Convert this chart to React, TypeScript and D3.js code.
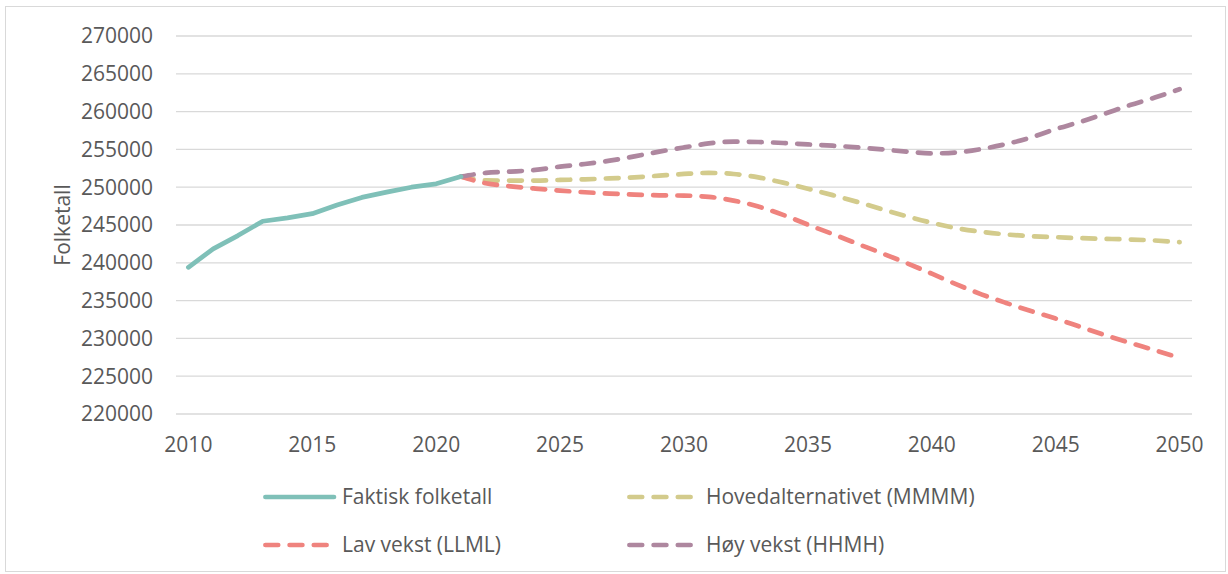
import React from 'react'
import * as d3 from 'd3'

const years = d3.range(2010, 2051)
const tickYears = [2010, 2015, 2020, 2025, 2030, 2035, 2040, 2045, 2050]
const yTicks = [220000, 225000, 230000, 235000, 240000, 245000, 250000, 255000, 260000, 265000, 270000]

// 2010-2021
const actual = [239400, 241850, 243600, 245500, 245950, 246500, 247650, 248650, 249350, 250000, 250450, 251400]

// 2021-2050
const projYears = d3.range(2021, 2051)
const mainAlt = [
    251400, 250900, 250870, 250880, 250960, 251040, 251170, 251300, 251530, 251750,
    251890, 251750, 251300, 250600, 249800, 248950, 248050, 247080, 246140, 245290,
    244580, 244100, 243750, 243520, 243390, 243260, 243170, 243080, 242950, 242730
]
const lowAlt = [
    251400, 250520, 250120, 249820, 249550, 249330, 249160, 249020, 248930, 248890,
    248720, 248230, 247440, 246340, 245050, 243800, 242520, 241250, 239940, 238560,
    237150, 235830, 234690, 233630, 232620, 231520, 230420, 229410, 228440, 227430
]
const highAlt = [
    251400, 251890, 252060, 252280, 252720, 253070, 253510, 254080, 254700, 255260,
    255790, 256020, 255980, 255850, 255660, 255490, 255270, 255000, 254700, 254470,
    254600, 255050, 255710, 256580, 257690, 258650, 259750, 260860, 261860, 262970
]

const W = 1228
const H = 574
const textColor = '#595959'
const font = '"Open Sans", sans-serif'
const dash = '12.8 11.4'

const series = [
    { name: 'Faktisk folketall', color: '#7fc0b8', dashed: false, yrs: years.slice(0, actual.length), vals: actual },
    { name: 'Hovedalternativet (MMMM)', color: '#d3cb8c', dashed: true, yrs: projYears, vals: mainAlt },
    { name: 'Lav vekst (LLML)', color: '#ef837e', dashed: true, yrs: projYears, vals: lowAlt },
    { name: 'Høy vekst (HHMH)', color: '#ae879f', dashed: true, yrs: projYears, vals: highAlt }
]

const legendItems = [
    { s: series[0], x: 263, y: 497 },
    { s: series[1], x: 627, y: 497 },
    { s: series[2], x: 263, y: 545 },
    { s: series[3], x: 627, y: 545 }
]

export default function App() {
    const x = d3.scalePoint<number>().domain(years).range([176, 1192]).padding(0.5)
    const y = d3.scaleLinear().domain([220000, 270000]).range([414, 36])

    const mkLine = (smooth: boolean) => d3.line<[number, number]>()
        .x((d) => x(d[0]) as number)
        .y((d) => y(d[1]))
        .curve(smooth ? d3.curveMonotoneX : d3.curveLinear)

    return (
        <div style={{ position: 'absolute', left: 0, top: 0 }}>
            <svg width={W} height={H} style={{ display: 'block', fontFamily: font }}>
                <rect x={5.5} y={6.5} width={W - 8} height={H - 9} fill="#fff" stroke="#d9d9d9" />

                {/* grid + y labels */}
                {yTicks.map((t) => (
                    <g key={t}>
                        <line x1={176} x2={1192} y1={y(t)} y2={y(t)} stroke="#d9d9d9" strokeWidth={1.3} />
                        <text x={153} y={y(t)} dy="0.35em" textAnchor="end" fontSize={21} fill={textColor}>{t}</text>
                    </g>
                ))}

                {tickYears.map((yr) => (
                    <text key={yr} x={x(yr)} y={452} textAnchor="middle" fontSize={21} fill={textColor}>{yr}</text>
                ))}

                <text transform={`translate(70,${y(245000)}) rotate(-90)`} textAnchor="middle" fontSize={21} fill={textColor}>Folketall</text>

                {series.slice(1).concat(series.slice(0, 1)).map((s) => (
                    <path
                        key={s.name}
                        d={mkLine(s.dashed)(s.yrs.map((yr, i) => [yr, s.vals[i]]) as [number, number][]) || ''}
                        fill="none"
                        stroke={s.color}
                        strokeWidth={4.7}
                        strokeLinecap="round"
                        strokeLinejoin="round"
                        strokeDasharray={s.dashed ? dash : undefined}
                    />
                ))}

                {legendItems.map(({ s, x: lx, y: ly }) => (
                    <g key={s.name}>
                        <line
                            x1={lx + 2.4} x2={lx + 71} y1={ly} y2={ly}
                            stroke={s.color} strokeWidth={4.7} strokeLinecap="round"
                            strokeDasharray={s.dashed ? dash : undefined}
                        />
                        <text x={lx + 79} y={ly} dy="0.35em" fontSize={21} fill={textColor}>{s.name}</text>
                    </g>
                ))}
            </svg>
        </div>
    )
}
